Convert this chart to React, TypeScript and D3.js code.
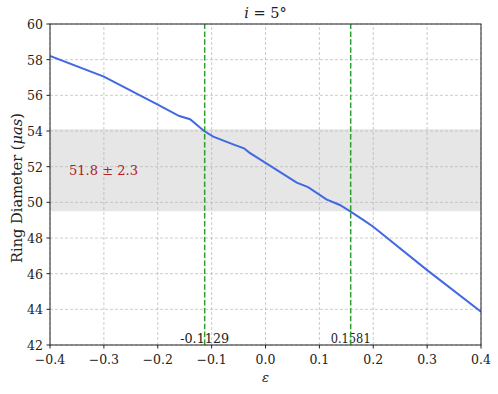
import * as d3 from "d3";

// curve
const eps = [-0.4, -0.3, -0.2, -0.16, -0.14, -0.114, -0.097, -0.06, -0.04, -0.03, 0.058, 0.079, 0.113, 0.138, 0.158, 0.182, 0.2, 0.3, 0.4];
const diameter = [58.21, 57.05, 55.48, 54.84, 54.66, 54.0, 53.68, 53.25, 53.03, 52.79, 51.1, 50.85, 50.17, 49.85, 49.48, 49.0, 48.63, 46.2, 43.87];

const ringMean = 51.8;
const ringErr = 2.3;
const crossings = [-0.1129, 0.1581];
const crossLabels = ["-0.1129", "0.1581"];

const xTicks = [-0.4, -0.3, -0.2, -0.1, 0.0, 0.1, 0.2, 0.3, 0.4];
const yTicks = [42, 44, 46, 48, 50, 52, 54, 56, 58, 60];

const W = 498;
const H = 394;
const m = { left: 50, right: 17, top: 24, bottom: 49 };
const FONT = "'DejaVu Serif', serif";
const FS = 12.5;

export default function App() {
  const x = d3.scaleLinear().domain([-0.4, 0.4]).range([m.left, W - m.right]);
  const y = d3.scaleLinear().domain([42, 60]).range([H - m.bottom, m.top]);
  const line = d3
    .line<number>()
    .x((d, i) => x(eps[i]))
    .y((d) => y(d));

  const fmt = (v: number) => {
    const s = v.toFixed(1);
    return v < 0 ? "\u2212" + s.slice(1) : s;
  };

  return (
    <svg width={W} height={H} style={{ position: "absolute", left: 0, top: 0, fontFamily: FONT }}>
      <rect x={0} y={0} width={W} height={H} fill="white" />
      <defs>
        <clipPath id="plot">
          <rect x={x(-0.4)} y={y(60)} width={x(0.4) - x(-0.4)} height={y(42) - y(60)} />
        </clipPath>
      </defs>
      {/* error band */}
      <rect
        x={x(-0.4)}
        width={x(0.4) - x(-0.4)}
        y={y(ringMean + ringErr)}
        height={y(ringMean - ringErr) - y(ringMean + ringErr)}
        fill="#e6e6e6"
      />
      {/* grid */}
      {xTicks.map((t) => (
        <line key={"gx" + t} x1={x(t)} x2={x(t)} y1={y(42)} y2={y(60)} stroke="#b0b0b0" strokeWidth={0.8} strokeDasharray="3,2" opacity={0.8} />
      ))}
      {yTicks.map((t) => (
        <line key={"gy" + t} x1={x(-0.4)} x2={x(0.4)} y1={y(t)} y2={y(t)} stroke="#b0b0b0" strokeWidth={0.8} strokeDasharray="3,2" opacity={0.8} />
      ))}
      <path d={line(diameter) || ""} fill="none" stroke="#4169e1" strokeWidth={2} clipPath="url(#plot)" />
      {crossings.map((c, i) => (
        <text key={"cl" + c} x={x(c)} y={y(42) - 2.5} textAnchor="middle" fontSize={FS} fill="#222" textLength={i === 0 ? 49 : 40} lengthAdjust="spacingAndGlyphs">
          {crossLabels[i]}
        </text>
      ))}
      {/* crossing lines */}
      {crossings.map((c) => (
        <line key={"c" + c} x1={x(c)} x2={x(c)} y1={y(42)} y2={y(60)} stroke="#2ca02c" strokeWidth={1.5} strokeDasharray="5.5,2.4" />
      ))}
      <text x={69} y={175} fontSize={13} fill="#b22222" textLength={69} lengthAdjust="spacingAndGlyphs">
        {ringMean.toFixed(1)} ± {ringErr.toFixed(1)}
      </text>
      {/* frame */}
      <rect x={x(-0.4)} y={y(60)} width={x(0.4) - x(-0.4)} height={y(42) - y(60)} fill="none" stroke="#222" strokeWidth={1} />
      {/* x axis */}
      {xTicks.map((t) => (
        <g key={"xt" + t}>
          <line x1={x(t)} x2={x(t)} y1={y(42)} y2={y(42) + 3.5} stroke="#222" />
          <text x={x(t)} y={364} textAnchor="middle" fontSize={FS} fill="#222">
            {fmt(t)}
          </text>
        </g>
      ))}
      {/* y axis */}
      {yTicks.map((t) => (
        <g key={"yt" + t}>
          <line x1={x(-0.4) - 3.5} x2={x(-0.4)} y1={y(t)} y2={y(t)} stroke="#222" />
          <text x={43} y={y(t) + 5} textAnchor="end" fontSize={FS} fill="#222">
            {t}
          </text>
        </g>
      ))}
      <text x={(x(-0.4) + x(0.4)) / 2} y={382} textAnchor="middle" fontSize={13} fontStyle="italic" fill="#222">
        ε
      </text>
      <text
        transform={`translate(22,188) rotate(-90)`}
        textAnchor="middle"
        fontSize={14}
        fill="#222"
        textLength={150}
        lengthAdjust="spacingAndGlyphs"
      >
        Ring Diameter (<tspan fontStyle="italic">μas</tspan>)
      </text>
      <text x={(x(-0.4) + x(0.4)) / 2} y={18} textAnchor="middle" fontSize={14.5} fill="#222">
        <tspan fontStyle="italic">i</tspan> = 5°
      </text>
    </svg>
  );
}
